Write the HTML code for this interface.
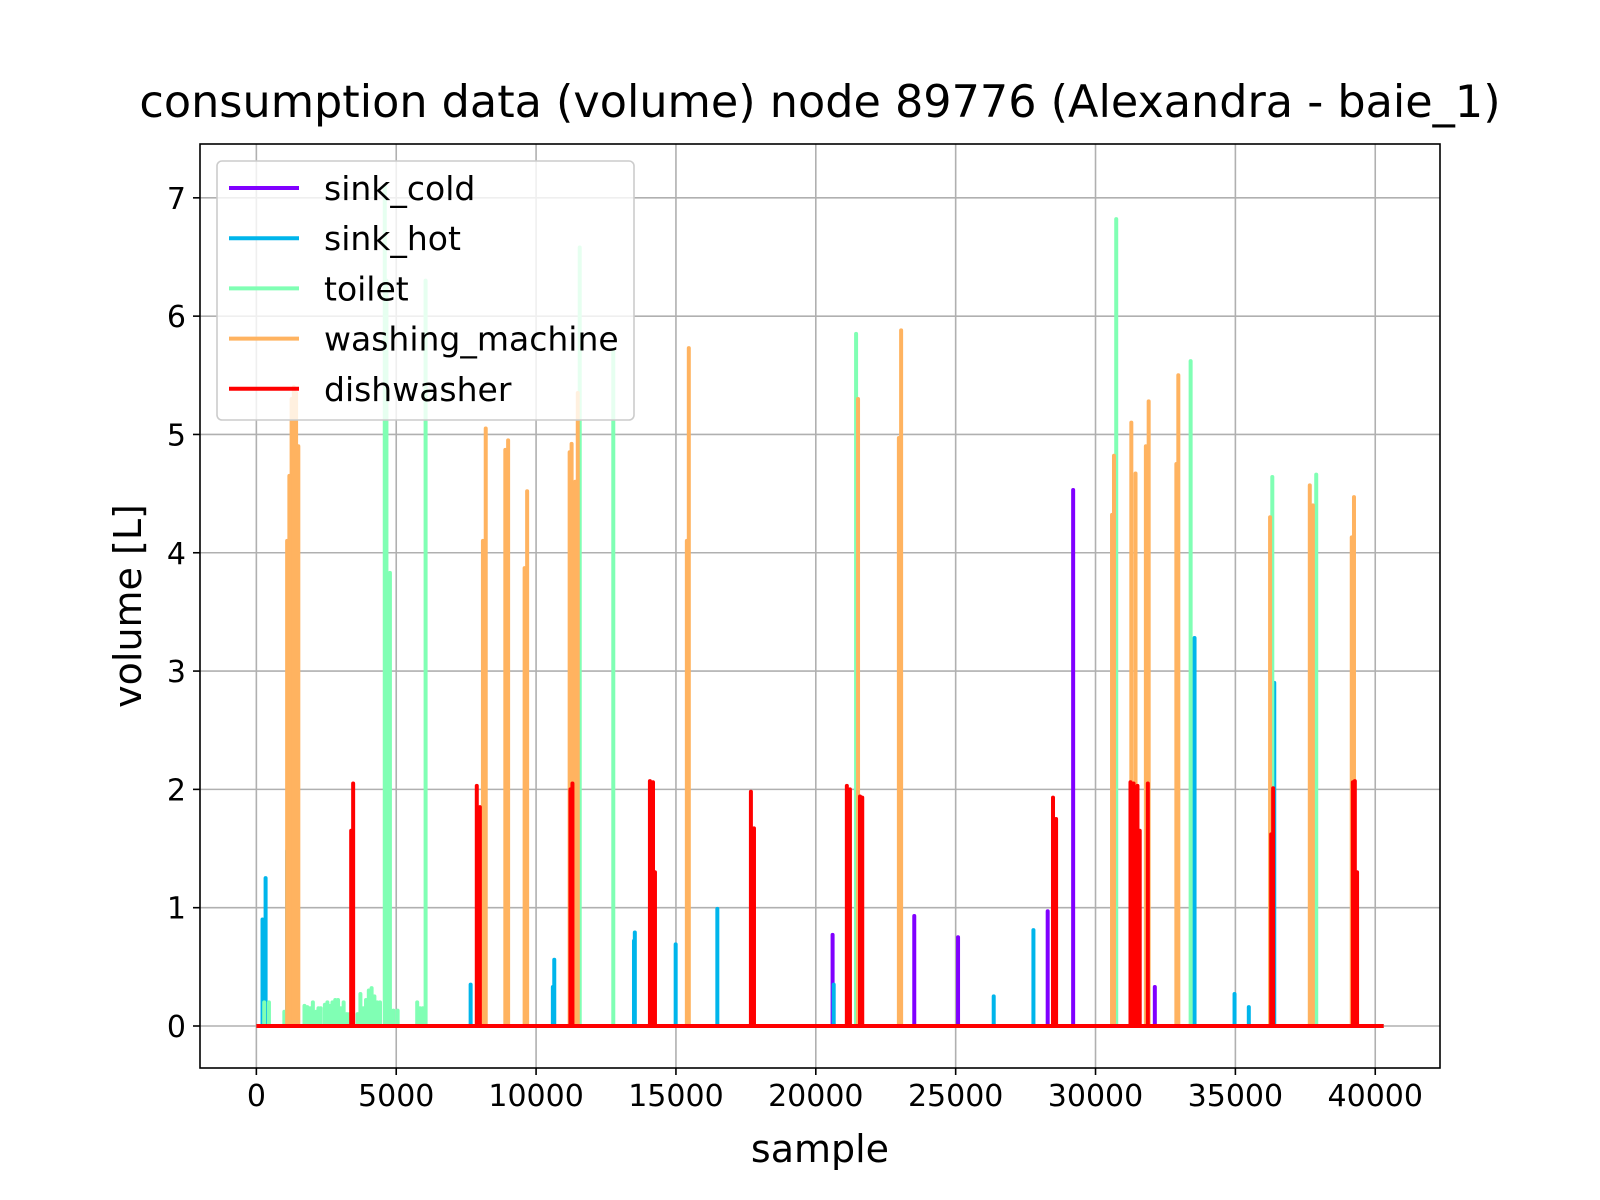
<!DOCTYPE html>
<html><head><meta charset="utf-8"><style>
body{margin:0;background:#fff}
svg{display:block;font-family:"DejaVu Sans","Liberation Sans",sans-serif}
</style></head><body>
<svg id="chart" width="1600" height="1200" xmlns="http://www.w3.org/2000/svg">
<rect width="1600" height="1200" fill="#fff"/>
<g id="grid"></g><g id="marks"></g><g id="axes"></g>
<text x="820" y="117" font-size="44.5" text-anchor="middle">consumption data (volume) node 89776 (Alexandra - baie_1)</text>
<text x="820" y="1162" font-size="38" text-anchor="middle">sample</text>
<text x="141" y="606" font-size="38" text-anchor="middle" transform="rotate(-90 141 606)">volume [L]</text>
<g id="legend"></g>
</svg>
<script>
const seriesNames = ["sink_cold","sink_hot","toilet","washing_machine","dishwasher"];
const seriesColors = ["#8000ff","#00b5eb","#80ffb4","#ffb360","#ff0000"];
const sinkColdX = [20600,23520,25085,28290,29200,32120];
const sinkColdY = [0.77,0.93,0.75,0.97,4.53,0.33];
const sinkHotX = [220,330,1100,7660,10600,10650,13500,13530,14990,16480,17690,20640,26360,27780,33540,34970,35480,36390];
const sinkHotY = [0.9,1.25,1.48,0.35,0.33,0.56,0.72,0.79,0.69,0.99,0.15,0.35,0.25,0.81,3.28,0.27,0.16,2.9];
const toiletX = [280,450,1000,1720,1820,1920,2020,2140,2220,2300,2450,2540,2640,2720,2820,2920,3020,3120,3230,3330,3620,3720,3820,3920,4020,4120,4220,4320,4420,4590,4650,4775,4900,5050,5750,5850,5950,6050,11560,12760,21440,30740,33400,36320,37890];
const toiletY = [0.2,0.2,0.12,0.17,0.16,0.15,0.2,0.12,0.15,0.15,0.18,0.2,0.17,0.2,0.22,0.22,0.15,0.2,0.1,0.1,0.1,0.27,0.15,0.22,0.3,0.32,0.25,0.2,0.2,7.1,6.3,3.83,0.13,0.13,0.2,0.15,0.15,6.3,6.58,5.7,5.85,6.82,5.62,4.64,4.66];
const washX = [1100,1180,1260,1340,1420,1500,8100,8200,8900,9000,9590,9680,11200,11270,11400,11490,15390,15460,21510,22970,23050,30590,30660,31280,31430,31800,31900,32890,32960,36240,37660,37770,39160,39240];
const washY = [4.1,4.65,5.3,5.4,5.35,4.9,4.1,5.05,4.87,4.95,3.87,4.52,4.85,4.92,4.6,5.35,4.1,5.73,5.3,4.97,5.88,4.32,4.82,5.1,4.67,4.9,5.28,4.75,5.5,4.3,4.57,4.4,4.13,4.47];
const dishX = [3390,3460,7880,7990,11230,11300,14070,14180,14250,17680,17790,21110,21220,21580,21660,28480,28590,31250,31360,31500,31580,31870,36280,36350,39200,39270,39350];
const dishY = [1.65,2.05,2.03,1.85,2.0,2.05,2.07,2.06,1.3,1.98,1.67,2.03,2.0,1.94,1.93,1.93,1.75,2.06,2.05,2.03,1.65,2.05,1.62,2.01,2.06,2.07,1.3];
const xTicks = [0,5000,10000,15000,20000,25000,30000,35000,40000];
const yTicks = [0,1,2,3,4,5,6,7];
const dataEnd = 40300;

const L=200,R=1440,T=144,B=1068, X0=-2015,X1=42315, Y0=-0.355,Y1=7.455;
const sx=v=>L+(v-X0)/(X1-X0)*(R-L);
const sy=v=>B-(v-Y0)/(Y1-Y0)*(B-T);
const NS="http://www.w3.org/2000/svg";
function mk(tag,attrs,parent){const e=document.createElementNS(NS,tag);for(const k in attrs)e.setAttribute(k,attrs[k]);parent.appendChild(e);return e;}
const grid=document.getElementById('grid'),marks=document.getElementById('marks'),axes=document.getElementById('axes'),legend=document.getElementById('legend');
xTicks.forEach(t=>{
  const g=mk('line',{x1:sx(t),x2:sx(t),y1:T,y2:B,stroke:'#b0b0b0','stroke-width':1.6},grid);
  
  
  mk('line',{x1:sx(t),x2:sx(t),y1:B,y2:B+7,stroke:'#000','stroke-width':1.6},axes);
  const tx=mk('text',{x:sx(t),y:B+38,'font-size':30,'text-anchor':'middle'},axes);
  tx.textContent=t;
  
  
});
yTicks.forEach(t=>{
  const g=mk('line',{x1:L,x2:R,y1:sy(t),y2:sy(t),stroke:'#b0b0b0','stroke-width':1.6},grid);
  
  
  mk('line',{x1:L-7,x2:L,y1:sy(t),y2:sy(t),stroke:'#000','stroke-width':1.6},axes);
  const tx=mk('text',{x:L-14,y:sy(t)+11,'font-size':30,'text-anchor':'end'},axes);
  tx.textContent=t;
  
  
});
const fr=mk('rect',{x:L,y:T,width:R-L,height:B-T,fill:'none',stroke:'#000','stroke-width':1.6},axes);


const allX=[sinkColdX,sinkHotX,toiletX,washX,dishX], allY=[sinkColdY,sinkHotY,toiletY,washY,dishY];
allX.forEach((xs,si)=>{
  const g=mk('g',{},marks);
  
  
  const base=mk('line',{x1:sx(0),x2:sx(dataEnd),y1:sy(0),y2:sy(0),stroke:seriesColors[si],'stroke-width':4},g);
  
  
  xs.forEach((x,i)=>{
    const s=mk('line',{x1:sx(x),x2:sx(x),y1:sy(0),y2:sy(allY[si][i]),stroke:seriesColors[si],'stroke-width':4,'stroke-linecap':'round'},g);
    
    
  });
});
const lb=mk('rect',{x:217,y:161,width:417,height:259,rx:5,fill:'#fff','fill-opacity':0.8,stroke:'#ccc','stroke-width':1.6},legend);


seriesNames.forEach((n,i)=>{
  const y=188+i*50.2;
  const g=mk('g',{},legend);
  
  
  mk('line',{x1:229,x2:299,y1:y,y2:y,stroke:seriesColors[i],'stroke-width':4},g);
  const t=mk('text',{x:324,y:y+12,'font-size':33},g);
  t.textContent=n;
});
</script>
</body></html>
